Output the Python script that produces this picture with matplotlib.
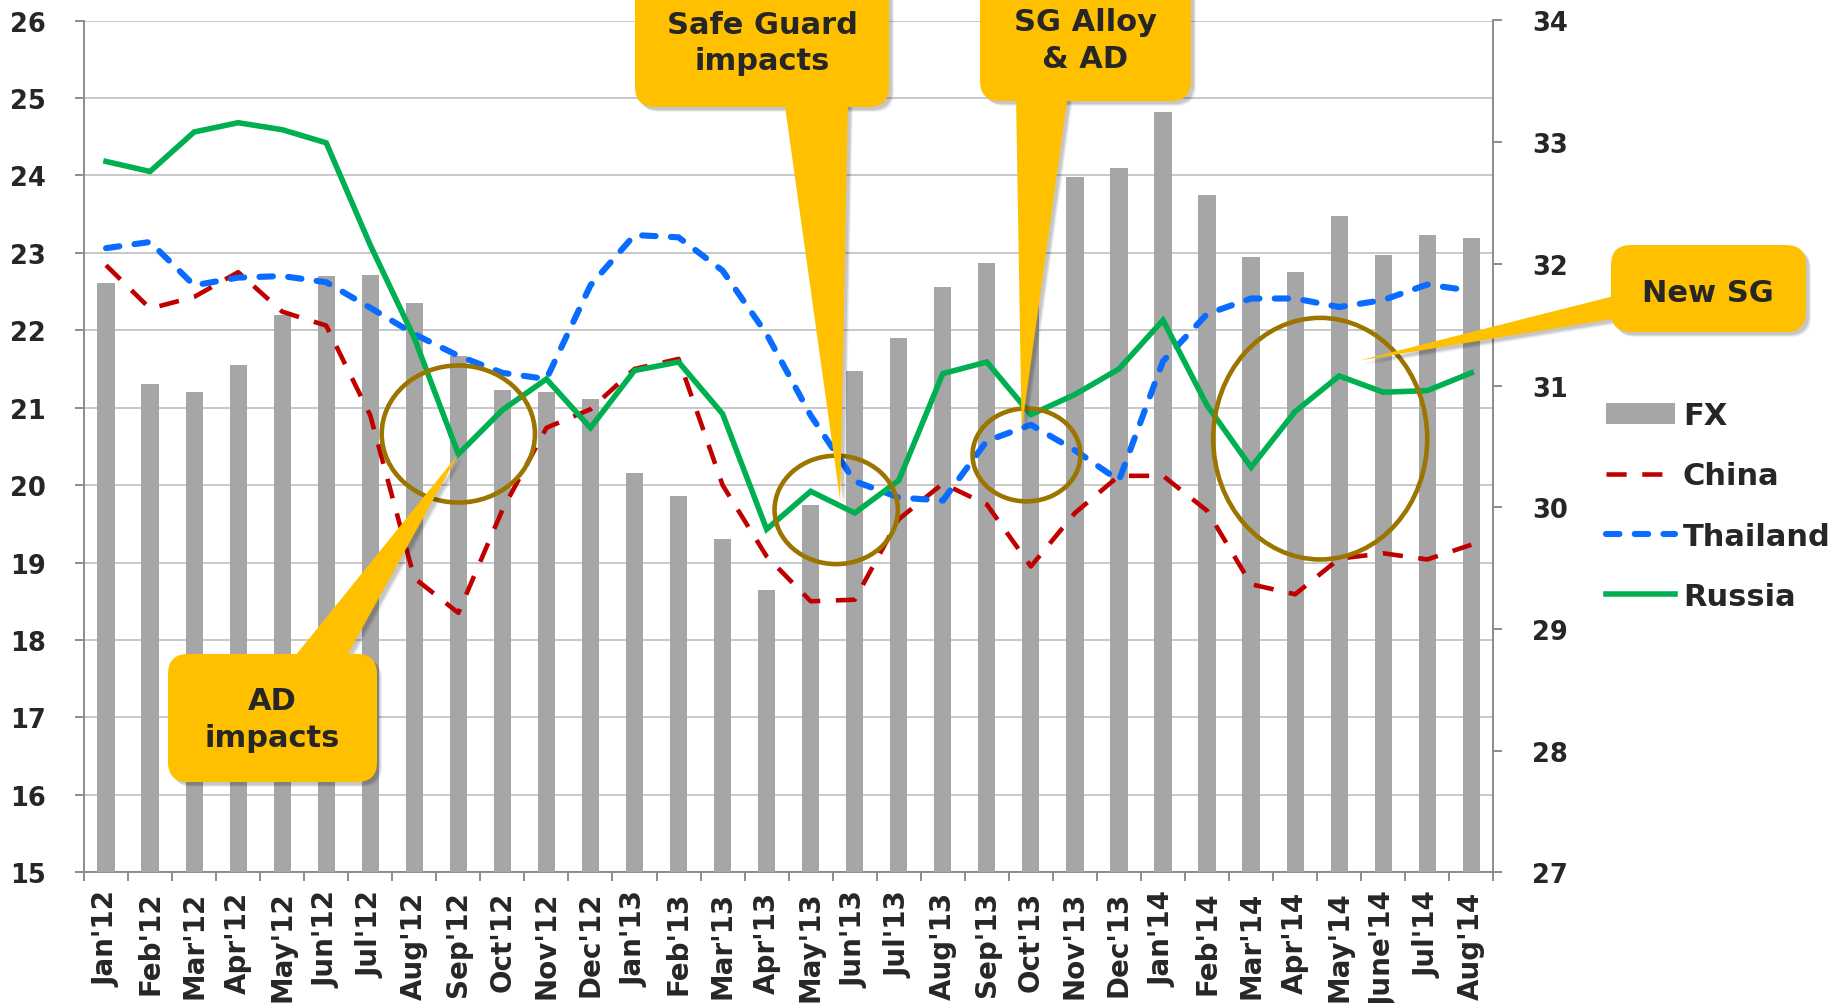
import matplotlib
matplotlib.use('Agg')
import matplotlib.pyplot as plt
from matplotlib.patches import Ellipse, FancyBboxPatch, Polygon, Patch
from matplotlib.lines import Line2D
from matplotlib.transforms import Affine2D
import numpy as np

# ---------------- data ----------------
months = ["Jan'12", "Feb'12", "Mar'12", "Apr'12", "May'12", "Jun'12", "Jul'12", "Aug'12",
          "Sep'12", "Oct'12", "Nov'12", "Dec'12", "Jan'13", "Feb'13", "Mar'13", "Apr'13",
          "May'13", "Jun'13", "Jul'13", "Aug'13", "Sep'13", "Oct'13", "Nov'13", "Dec'13",
          "Jan'14", "Feb'14", "Mar'14", "Apr'14", "May'14", "June'14", "Jul'14", "Aug'14"]

# FX (right axis)
fx = [31.84, 31.01, 30.95, 31.17, 31.58, 31.90, 31.91, 31.68, 31.24, 30.96, 30.95, 30.89,
      30.28, 30.09, 29.74, 29.32, 30.02, 31.12, 31.39, 31.81, 32.01, 32.09, 32.71, 32.79,
      33.25, 32.57, 32.06, 31.93, 32.39, 32.07, 32.24, 32.21]

# prices (left axis)
china = [22.84, 22.28, 22.43, 22.75, 22.24, 22.06, 20.90, 18.80, 18.35, 19.68, 20.74, 20.98,
         21.50, 21.63, 20.00, 19.08, 18.50, 18.52, 19.56, 20.02, 19.75, 18.95, 19.64, 20.12,
         20.12, 19.67, 18.72, 18.59, 19.05, 19.12, 19.04, 19.23]
thailand = [23.06, 23.14, 22.58, 22.68, 22.70, 22.62, 22.29, 21.95, 21.67, 21.45, 21.37, 22.58,
            23.23, 23.20, 22.77, 21.95, 20.90, 20.05, 19.84, 19.80, 20.57, 20.78, 20.45, 20.06,
            21.60, 22.21, 22.41, 22.41, 22.30, 22.39, 22.59, 22.51]
russia = [24.18, 24.05, 24.56, 24.68, 24.59, 24.42, 23.10, 21.90, 20.40, 20.97, 21.37, 20.74,
          21.48, 21.59, 20.92, 19.43, 19.92, 19.64, 20.06, 21.44, 21.59, 20.91, 21.17, 21.50,
          22.13, 21.03, 20.23, 20.95, 21.41, 21.20, 21.22, 21.45]

left_ticks = list(range(15, 27))
right_ticks = list(range(27, 35))

# ---------------- style ----------------
W, H, DPI = 1845, 1004, 100
TXT = '#262626'
AXC = '#8C8C8C'
GRID = '#C8C8C8'
BAR = '#A6A6A6'
YEL = '#FFC000'
RING = '#9C7500'
RED, BLUE, GREEN = '#C00000', '#0A6CFF', '#00B050'
plt.rcParams['font.family'] = ['DejaVu Sans']

fig = plt.figure(figsize=(W / DPI, H / DPI), dpi=DPI)
fig.patch.set_facecolor('white')

ax = fig.add_axes([84 / W, 1 - 873.3 / H, (1493.3 - 84) / W, (873.3 - 21.5) / H])
ax2 = ax.twinx()
ax3 = ax.twinx()

x = np.arange(len(months))

# base axes: left scale + grid + x labels
ax.set_xlim(-0.5, len(months) - 0.5)
ax.set_ylim(15, 26)
ax.set_yticks(left_ticks)
ax.yaxis.grid(True, color=GRID, lw=1.4)
ax.set_axisbelow(True)
for s in ['top', 'right']:
    ax.spines[s].set_visible(False)
for s in ['left', 'bottom']:
    ax.spines[s].set_color(AXC)
    ax.spines[s].set_linewidth(1.4)
ax.set_xticks(x)
ax.set_xticklabels(months, rotation=90, fontsize=20, fontweight='bold', color=TXT)
ax.set_xticks(np.arange(-0.5, len(months), 1), minor=True)
ax.tick_params(axis='x', which='major', length=0, pad=13)
ax.tick_params(axis='x', which='minor', length=6.7, width=1.4, color=AXC)
ax.tick_params(axis='y', length=6.7, width=1.4, color=AXC, pad=21,
               labelsize=18.5, labelcolor=TXT)
for t in ax.get_yticklabels():
    t.set_fontweight('bold')

# bars on right axis
ax2.bar(x, fx, width=0.39, color=BAR, zorder=2)
ax2.set_ylim(27, 34)
ax2.set_yticks(right_ticks)
for s in ['top', 'left', 'bottom']:
    ax2.spines[s].set_visible(False)
ax2.spines['right'].set_color(AXC)
ax2.spines['right'].set_linewidth(1.4)
ax2.tick_params(axis='y', length=6.7, width=1.4, color=AXC, pad=21,
                labelsize=18.5, labelcolor=TXT)
for t in ax2.get_yticklabels():
    t.set_fontweight('bold')

# lines on a third axes sharing the left scale
ax3.set_ylim(15, 26)
ax3.yaxis.set_visible(False)
for s in ax3.spines.values():
    s.set_visible(False)
china_style = dict(color=RED, lw=3.3, dashes=(4.4, 3.4), dash_capstyle='butt')
thai_style = dict(color=BLUE, lw=4.4, dashes=(2.2, 2.5), dash_capstyle='round')
rus_style = dict(color=GREEN, lw=4.0, solid_joinstyle='miter')
ax3.plot(x, china, zorder=3, **china_style)
ax3.plot(x, thailand, zorder=4, **thai_style)
ax3.plot(x, russia, zorder=5, **rus_style)

# ellipses (data coords of left scale)
for (cx, cy, ew, eh) in [(8.0, 20.66, 3.48, 1.77), (16.58, 19.68, 2.8, 1.40),
                         (20.9, 20.39, 2.45, 1.20), (27.57, 20.6, 4.86, 3.12)]:
    ax3.add_patch(Ellipse((cx, cy), ew, eh, fill=False, ec=RING, lw=3.3,
                          clip_on=False, zorder=6))

# legend
handles = [Patch(facecolor=BAR, edgecolor='none'),
           Line2D([], [], **china_style),
           Line2D([], [], **thai_style),
           Line2D([], [], **rus_style)]
leg = fig.legend(handles, ['FX', 'China', 'Thailand', 'Russia'], loc='center left',
                 bbox_to_anchor=(1606 / W, 1 - 507 / H), frameon=False,
                 prop=dict(weight='bold', size=22), handlelength=2.25, handletextpad=0.27,
                 labelspacing=1.02, borderpad=0, borderaxespad=0)
for t in leg.get_texts():
    t.set_color(TXT)

# ---------------- callouts ----------------
T_img = Affine2D().scale(1 / DPI, -1 / DPI).translate(0, H / DPI) + fig.dpi_scale_trans


def tip_px(xy):
    return T_img.inverted().transform(ax3.transData.transform(xy))


def callout(box, base, tip, lines, baselines, cx, r=20):
    x0, y0, x1, y1 = box
    tx, ty = tip_px(tip)
    tail = [base[0], base[1], (tx, ty)]
    for sh, a in [(5, 0.06), (4, 0.08), (3, 0.10)]:
        fig.add_artist(Polygon([(p[0] + sh, p[1] + sh) for p in tail], closed=True,
                               transform=T_img, fc=(0, 0, 0, a), ec='none', zorder=10))
        fig.add_artist(FancyBboxPatch((x0 + sh, y0 + sh), x1 - x0, y1 - y0,
                                      boxstyle=f"round,pad=0,rounding_size={r}",
                                      transform=T_img, fc=(0, 0, 0, a), ec='none', zorder=10))
    fig.add_artist(Polygon(tail, closed=True, transform=T_img, fc=YEL, ec='none', zorder=11))
    fig.add_artist(FancyBboxPatch((x0, y0), x1 - x0, y1 - y0,
                                  boxstyle=f"round,pad=0,rounding_size={r}",
                                  transform=T_img, fc=YEL, ec='none', zorder=12))
    for s, b in zip(lines, baselines):
        fig.text(cx, b, s, transform=T_img, ha='center', va='baseline', fontsize=22,
                 fontweight='bold', color=TXT, zorder=13)


callout((635, -30, 889, 108), [(784, 100), (848, 100)], (16.67, 19.8),
        ['Safe Guard', 'impacts'], [34, 70], 762)
callout((980, -30, 1191, 102), [(1016, 95), (1068, 95)], (20.79, 20.72),
        ['SG Alloy', '& AD'], [31, 67.5], 1085)
callout((168, 655, 377, 783), [(291, 662), (344, 662)], (8.0, 20.4),
        ['AD', 'impacts'], [710, 747], 272)
callout((1611, 246, 1806, 333), [(1618, 296), (1618, 319)], (28.46, 21.61),
        ['New SG'], [302], 1708)

fig.savefig('out.png', dpi=DPI, facecolor='white')
